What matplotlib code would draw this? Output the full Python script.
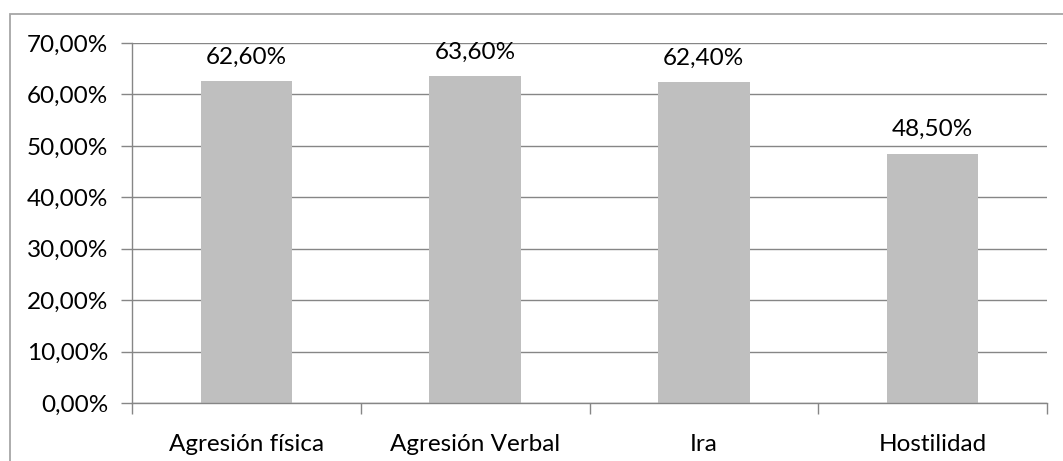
import matplotlib.pyplot as plt
from matplotlib.patches import Rectangle
from matplotlib.ticker import FuncFormatter, FixedLocator

categories = ["Agresión física", "Agresión Verbal", "Ira", "Hostilidad"]
values = [62.6, 63.6, 62.4, 48.5]
yticks = [0, 10, 20, 30, 40, 50, 60, 70]

plt.rcParams['font.family'] = ['Lato', 'DejaVu Sans']
grey = '#868686'
fs = 17.5

fig = plt.figure(figsize=(10.63, 4.61), dpi=100)
ax = fig.add_axes([132 / 1063, 1 - 403 / 461, (1047 - 132) / 1063, (403 - 43) / 461])

# outer chart border (only top and left visible in the crop)
fig.add_artist(Rectangle((10 / 1063, -0.1), 1.2, 1 - 14 / 461 + 0.1, transform=fig.transFigure,
                         fill=False, edgecolor='#a6a6a6', lw=1.3))

x = range(len(categories))
ax.bar(x, values, width=0.4, color='#bfbfbf', zorder=2)
for xi, v in zip(x, values):
    ax.text(xi, v + 2.6, f"{v:.2f}%".replace('.', ','), ha='center', va='bottom', fontsize=fs)

ax.set_xlim(-0.5, len(categories) - 0.5)
ax.set_ylim(0, 70)
ax.set_yticks(yticks)
ax.yaxis.set_major_formatter(FuncFormatter(lambda v, p: f"{v:.2f}%".replace('.', ',')))
ax.yaxis.grid(True, color=grey, lw=1, zorder=0)

ax.set_xticks(list(x))
ax.set_xticklabels(categories)
ax.xaxis.set_minor_locator(FixedLocator([i - 0.5 for i in range(len(categories) + 1)]))
ax.tick_params(axis='x', which='major', length=0, pad=22, labelsize=fs)
ax.tick_params(axis='x', which='minor', length=8, color=grey, width=1)
ax.tick_params(axis='y', length=8, color=grey, width=1, labelsize=fs, pad=9)

for s in ['top', 'right']:
    ax.spines[s].set_visible(False)
for s in ['left', 'bottom']:
    ax.spines[s].set_color(grey)
    ax.spines[s].set_linewidth(1)

fig.savefig("out.png", dpi=100)
